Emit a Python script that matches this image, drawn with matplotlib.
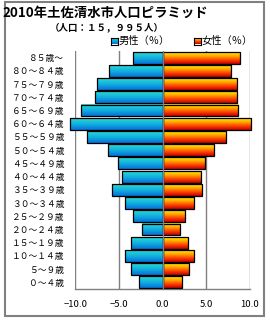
import matplotlib
matplotlib.use("Agg")
import matplotlib.pyplot as plt
import numpy as np
from matplotlib.colors import LinearSegmentedColormap
from matplotlib.patches import Rectangle

plt.rcParams['font.family'] = ['Noto Sans CJK JP', 'DejaVu Sans']

# ---- data (bottom to top) ----
ages = ['０～４歳', '５～９歳', '１０～１４歳', '１５～１９歳', '２０～２４歳',
        '２５～２９歳', '３０～３４歳', '３５～３９歳', '４０～４４歳', '４５～４９歳',
        '５０～５４歳', '５５～５９歳', '６０～６４歳', '６５～６９歳', '７０～７４歳',
        '７５～７９歳', '８０～８４歳', '８５歳～']
male = [2.64, 3.56, 4.25, 3.56, 2.40, 3.40, 4.25, 5.75, 4.70, 5.06,
        6.20, 8.70, 10.60, 9.30, 7.70, 7.50, 6.10, 3.40]
female = [2.29, 3.09, 3.66, 2.97, 1.95, 2.63, 3.66, 4.58, 4.46, 4.90,
          5.95, 7.30, 10.10, 8.70, 8.50, 8.60, 7.80, 8.90]
xticks = [-10, -5, 0, 5, 10]
xticklabels = ['−10.0', '−5.0', '0.0', '5.0', '10.0']
title = '2010年土佐清水市人口ピラミッド'
subtitle = '（人口：１５，９９５人）'
legend_labels = ['男性（％）', '女性（％）']

male_cmap = LinearSegmentedColormap.from_list('m', ['#2adcd0', '#12b0e0', '#0670d8'])
female_cmap = LinearSegmentedColormap.from_list('f', ['#ffee00', '#ffa800', '#ff4000', '#c00000'])

W, H = 270, 320
fig = plt.figure(figsize=(W / 100, H / 100), dpi=100)

def fx(px):
    return px / W

def fy(py):
    return 1 - py / H

ax = fig.add_axes([fx(75.3), fy(289), fx(249.7) - fx(75.3), fy(51) - fy(289)])

y = np.arange(len(ages))
grad = np.linspace(0, 1, 64).reshape(-1, 1)

def gradient_bars(vals, cmap):
    bars = ax.barh(y, vals, height=0.9, facecolor='none', edgecolor='black',
                   linewidth=0.9, zorder=3, clip_on=False)
    for b in bars:
        x0, y0 = b.get_x(), b.get_y()
        x1, y1 = x0 + b.get_width(), y0 + b.get_height()
        im = ax.imshow(grad, cmap=cmap, aspect='auto', origin='upper',
                       extent=[min(x0, x1), max(x0, x1), y0, y1], zorder=2)
        im.set_clip_path(b)
        im.set_clip_box(fig.bbox)
    return bars

gradient_bars(-np.array(male), male_cmap)
gradient_bars(np.array(female), female_cmap)

ax.set_xlim(-10, 10)
ax.set_ylim(-0.5, len(ages) - 0.5)
for gx in [-10, -5, 5, 10]:
    ax.axvline(gx, color='#808080', lw=1.0, zorder=1)
ax.axvline(0, color='#808080', lw=1.0, zorder=5)

for s in ['top', 'right', 'left']:
    ax.spines[s].set_visible(False)
ax.spines['bottom'].set_color('#808080')
ax.spines['bottom'].set_linewidth(1.0)

ax.set_yticks(y)
ax.set_yticklabels(ages, fontsize=6.3, color='black')
ax.set_xticks(xticks)
ax.set_xticklabels(xticklabels, fontsize=6.8, color='black')
ax.tick_params(axis='y', length=0, pad=8)
ax.tick_params(axis='x', length=0, pad=8)

# title & subtitle
fig.text(fx(2), fy(13), title, fontsize=9.6, fontweight='bold', ha='left', va='center')
fig.text(fx(107), fy(27), subtitle, fontsize=6.8, fontweight='bold', ha='center', va='center')

# legend
for (sx, tx, lab, cmap) in [(111, 119, legend_labels[0], male_cmap),
                            (194, 202, legend_labels[1], female_cmap)]:
    lax = fig.add_axes([fx(sx), fy(44.5), fx(7), 7 / H])
    lax.imshow(grad, cmap=cmap, aspect='auto')
    lax.set_xticks([]); lax.set_yticks([])
    for sp in lax.spines.values():
        sp.set_color('black'); sp.set_linewidth(0.8)
    fig.text(fx(tx), fy(41), lab, fontsize=7.4, ha='left', va='center')

# outer frame
fig.patches.append(Rectangle((fx(5), fy(316)), fx(264) - fx(5), fy(2) - fy(316),
                             transform=fig.transFigure, fill=False,
                             edgecolor='#808080', linewidth=1.5))

fig.savefig('out.png', dpi=100, facecolor='white')
